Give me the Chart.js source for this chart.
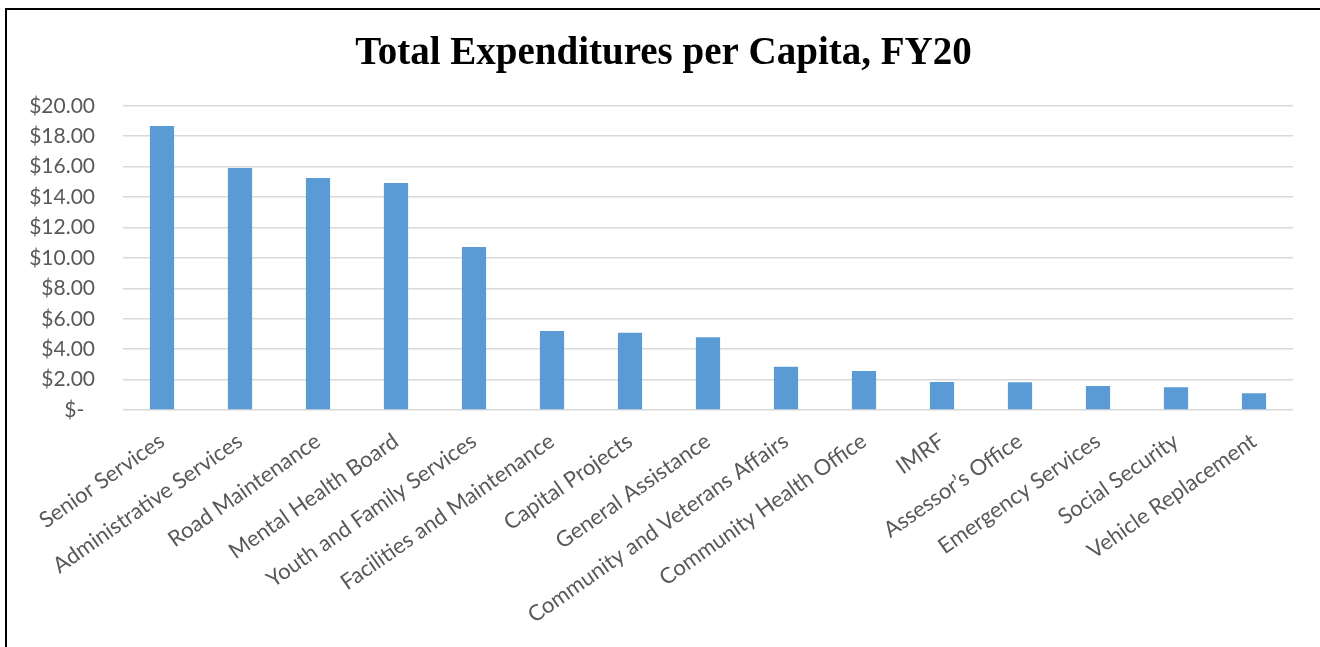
<!DOCTYPE html>
<html>
<head>
<meta charset="utf-8">
<title>Total Expenditures per Capita, FY20</title>
<script src="https://cdn.jsdelivr.net/npm/chart.js@4/dist/chart.umd.min.js"></script>
<style>
  html, body { margin: 0; padding: 0; background: #fff; }
  #frame {
    position: absolute; left: 5px; top: 8px; width: 1315px; height: 639px;
    box-sizing: border-box; border-top: 2px solid #000; border-left: 2px solid #000;
  }
  #wrap { position: absolute; left: 0; top: 0; width: 1313px; height: 637px; }
</style>
</head>
<body>
<div id="frame">
  <div id="wrap"><canvas id="expChart"></canvas></div>
</div>
<script>
// departments, sorted by spending per resident
const departments = [
  "Senior Services", "Administrative Services", "Road Maintenance", "Mental Health Board",
  "Youth and Family Services", "Facilities and Maintenance", "Capital Projects",
  "General Assistance", "Community and Veterans Affairs", "Community Health Office",
  "IMRF", "Assessor\u2019s Office", "Emergency Services", "Social Security", "Vehicle Replacement"
];
// dollars per capita
const perCapita = [18.67, 15.91, 15.25, 14.92, 10.72, 5.19, 5.08, 4.78, 2.85, 2.56, 1.84, 1.82, 1.58, 1.49, 1.10];
const yTicks = [0, 2, 4, 6, 8, 10, 12, 14, 16, 18, 20];

const fontFamily = "Lato, 'Open Sans', sans-serif";
const grey = "#595959";

function money(v) {
  return v === 0 ? "$-  " : "$" + v.toFixed(2);
}

new Chart(document.getElementById("expChart"), {
  type: "bar",
  data: {
    labels: departments,
    datasets: [{
      data: perCapita,
      backgroundColor: "#5B9BD5",
      categoryPercentage: 1,
      barPercentage: 0.31
    }]
  },
  options: {
    responsive: true,
    maintainAspectRatio: false,
    animation: false,
    layout: { padding: 0 },
    plugins: {
      legend: { display: false },
      tooltip: { enabled: false },
      title: {
        display: true,
        text: "Total Expenditures per Capita, FY20",
        color: "#000",
        font: { family: "'Liberation Serif', serif", size: 39, weight: "bold", lineHeight: 1.2 },
        padding: { top: 21, bottom: 28 }
      }
    },
    scales: {
      x: {
        grid: { display: false },
        border: { display: false },
        ticks: {
          autoSkip: false,
          minRotation: 35,
          maxRotation: 35,
          color: grey,
          font: { family: fontFamily, size: 22 },
          padding: 10
        },
        afterFit(scale) { scale.height = 237; }
      },
      y: {
        min: 0,
        max: 20,
        afterBuildTicks(scale) { scale.ticks = yTicks.map(v => ({ value: v })); },
        grid: { color: "#d9d9d9", lineWidth: 1.5, drawTicks: false },
        border: { display: false },
        ticks: {
          color: grey,
          font: { family: fontFamily, size: 21 },
          padding: 28,
          callback: v => money(v)
        },
        afterFit(scale) { scale.width = 116; }
      },
      // empty strip on the right so the plot stops short of the edge
      gap: {
        position: "right",
        grid: { display: false },
        border: { display: false },
        ticks: { display: false },
        afterFit(scale) { scale.width = 27; }
      }
    }
  }
});
</script>
</body>
</html>
